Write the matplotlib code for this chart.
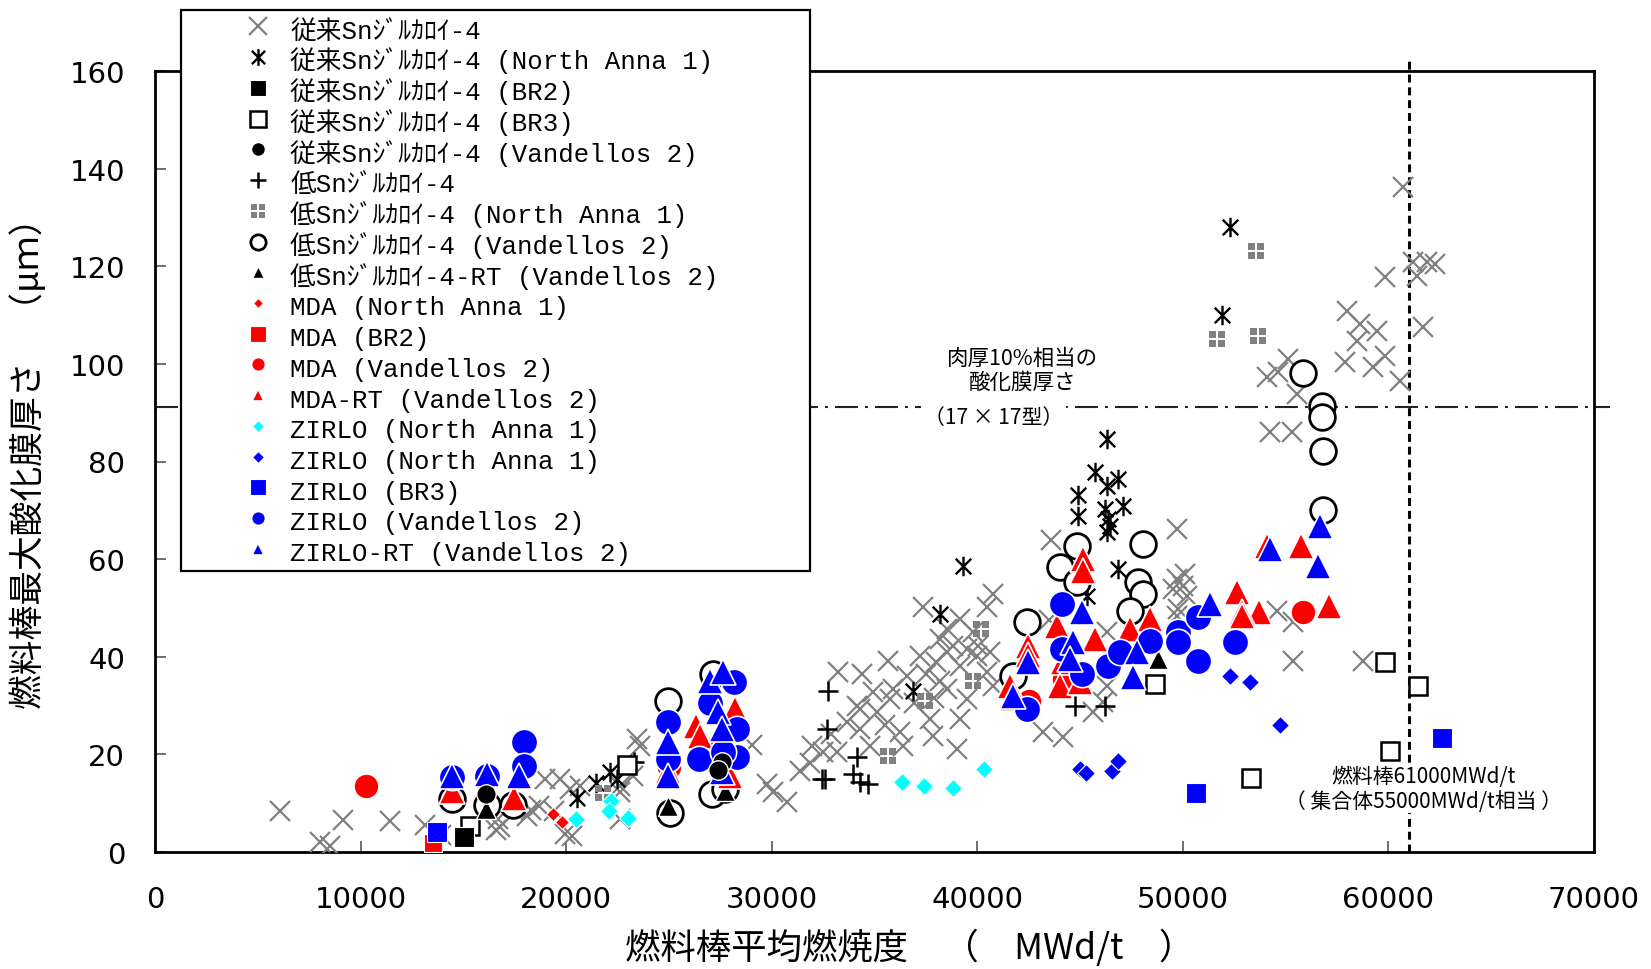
import matplotlib
matplotlib.use("Agg")
import matplotlib.pyplot as plt
from matplotlib.path import Path

# ---- data (burnup MWd/t, max oxide thickness um) ----
conv_x = [6100, 8050, 8500, 9150, 11450, 13150, 13900, 16700, 16800, 16600, 18100, 18700,
          19400, 18950, 19700, 20200, 20300, 20650, 18300, 19950, 22600, 23250, 23600, 23450,
          22600, 22600, 29050, 29770, 30060, 30750, 31370, 31860, 31960, 32490, 32900, 33220,
          34390, 35650, 33660, 34150, 34290, 34920, 35120, 35750, 35900, 36580, 37210, 37360,
          40760, 40470, 39160, 40030, 33170, 34290, 34780, 36240, 36380, 37700, 37840, 39150,
          39010, 39500, 38520, 39150, 39980, 40610, 40760, 40470, 38180, 38520, 38810, 38520,
          39500, 39790, 38000, 37500, 38200, 37900, 36900, 35500, 43190, 44160, 43600, 49710,
          45620, 46110, 46300, 49710, 49520, 50000, 50200, 46300, 43500, 49710, 60700, 59830,
          61190, 61870, 62260, 61380, 61680, 57980, 58610, 59440, 58470, 59830, 59250, 57880,
          60560, 55110, 54620, 54090, 55550, 54230, 55300, 50100, 49760, 54570, 55350, 55350,
          58760]
conv_y = [8.5, 2.1, 1.3, 6.5, 6.4, 5.6, 3.4, 6.8, 5.2, 4.6, 7.4, 9.4,
          8.4, 15.0, 15.0, 12.9, 3.3, 13.5, 8.6, 3.7, 13.5, 15.6, 21.7, 23.2,
          6.8, 12.3, 22.0, 13.9, 12.3, 10.2, 16.6, 18.3, 21.7, 20.5, 24.2, 36.9,
          36.5, 39.1, 26.6, 29.9, 29.3, 32.8, 28.7, 31.4, 33.4, 36.1, 40.2, 50.2,
          52.9, 50.2, 47.7, 42.2, 20.5, 25.2, 21.7, 24.6, 21.7, 27.3, 23.8, 27.3,
          21.1, 31.4, 33.4, 38.1, 40.2, 41.0, 34.0, 36.9, 43.6, 41.0, 42.2, 45.7,
          41.6, 45.1, 39.0, 36.5, 35.0, 31.5, 30.5, 26.0, 24.6, 23.6, 64.0, 66.2,
          28.7, 30.7, 34.0, 55.9, 53.9, 54.5, 52.5, 45.1, 47.5, 48.3, 136.3, 117.8,
          120.9, 120.9, 120.5, 118.0, 107.6, 110.9, 108.2, 106.8, 104.7, 101.6, 99.4, 100.4,
          96.5, 101.0, 98.4, 97.3, 93.8, 86.1, 86.1, 57.0, 49.8, 49.4, 47.1, 39.1,
          39.1]

conv_na_x = [52290, 51900, 46300, 45720, 46840, 46300, 44890, 44890, 47080, 46210, 46360,
             46450, 46300, 46840, 45330, 39300, 38180, 36870, 20550, 21470, 22130, 22470]
conv_na_y = [128.1, 110.0, 84.6, 77.9, 76.4, 75.0, 73.2, 68.9, 70.9, 70.3, 68.2,
             66.8, 65.6, 58.0, 52.5, 58.6, 48.8, 33.0, 11.0, 14.2, 16.4, 15.0]

conv_br2_x = [15050]
conv_br2_y = [3.1]

conv_br3_x = [15320, 22960, 48640, 59830, 61430, 60070, 53310]
conv_br3_y = [5.3, 17.8, 34.4, 38.9, 34.0, 20.7, 15.2]

conv_v2_x = [16100, 27600, 27400]
conv_v2_y = [11.8, 18.5, 16.8]

low_x = [32730, 32680, 34150, 32440, 32600, 33950, 34290, 34680, 44750, 46210, 23300]
low_y = [33.0, 25.2, 19.5, 15.0, 15.0, 16.0, 14.3, 13.9, 29.9, 29.9, 18.5]

low_na_x = [53550, 51660, 53650, 40180, 39790, 37450, 35650, 21800]
low_na_y = [123.1, 105.1, 105.7, 45.7, 35.0, 30.9, 19.7, 12.0]

low_v2_x = [55860, 56780, 56780, 56830, 56830, 48060, 47820, 48060, 47420, 44840, 44020,
            44840, 42410, 41740, 24950, 25050, 27140, 27100, 27730, 14450, 16150, 17410]
low_v2_y = [98.1, 91.4, 89.1, 82.2, 70.1, 63.1, 55.3, 52.9, 49.4, 62.7, 58.4,
            55.3, 47.1, 36.1, 31.0, 8.0, 36.5, 11.9, 12.9, 10.8, 9.6, 9.6]

low_rt_x = [16100, 24950, 27730, 48790]
low_rt_y = [8.8, 9.4, 12.5, 39.5]

mda_na_x = [19360, 19800]
mda_na_y = [7.8, 6.1]

mda_br2_x = [13520]
mda_br2_y = [1.8]

mda_v2_x = [10260, 55860, 25000, 26600, 44200, 42500]
mda_v2_y = [13.5, 49.2, 17.5, 21.5, 35.5, 31.0]

mda_rt_x = [14450, 17450, 24950, 26300, 26500, 28200, 27970, 45140, 45140, 52610, 53720,
            52900, 48400, 47420, 45720, 42460, 43870, 44160, 44020, 41590, 44990, 57130,
            55770, 54070, 52870, 41700, 42460]
mda_rt_y = [12.5, 11.0, 16.5, 25.8, 23.8, 29.3, 15.5, 60.0, 57.5, 53.3, 49.2,
            49.2, 47.7, 45.7, 43.6, 42.2, 46.3, 38.9, 34.0, 34.0, 34.8, 50.4,
            62.7, 62.7, 48.4, 31.5, 40.3]

zna_c_x = [20500, 22200, 22100, 23000, 36320, 37400, 38810, 40320]
zna_c_y = [6.8, 10.5, 8.5, 6.9, 14.3, 13.5, 13.1, 17.0]

zna_b_x = [45000, 45300, 46550, 46840, 52270, 53290, 54720]
zna_b_y = [17.0, 16.2, 16.6, 18.6, 36.1, 34.9, 26.0]

zbr3_x = [13720, 50630, 62600]
zbr3_y = [4.1, 12.1, 23.4]

zv2_x = [14450, 16150, 17950, 17950, 24950, 24950, 27000, 26450, 28150, 28300, 28300,
         27630, 44110, 44110, 45090, 46350, 46940, 48400, 49760, 49760, 50730, 50730,
         52530, 42410]
zv2_y = [15.4, 15.6, 22.5, 17.6, 26.6, 19.1, 30.5, 19.1, 34.8, 25.2, 19.4,
         20.5, 50.8, 41.6, 36.5, 38.1, 41.0, 43.2, 45.1, 43.0, 48.2, 39.1,
         43.0, 29.3]

zrt_x = [14450, 16150, 17700, 24950, 24950, 27000, 27630, 27390, 27580, 27580, 45090,
         44650, 44500, 42460, 41740, 47760, 47570, 51320, 54230, 56660, 56590]
zrt_y = [15.6, 16.0, 15.6, 22.5, 15.6, 35.0, 36.9, 28.7, 25.2, 16.4, 49.2,
         43.0, 39.5, 38.9, 32.0, 41.0, 35.9, 50.8, 62.1, 66.8, 58.6]

labels = ["従来Snｼﾞﾙｶﾛｲ-4", "従来Snｼﾞﾙｶﾛｲ-4 (North Anna 1)", "従来Snｼﾞﾙｶﾛｲ-4 (BR2)",
          "従来Snｼﾞﾙｶﾛｲ-4 (BR3)", "従来Snｼﾞﾙｶﾛｲ-4 (Vandellos 2)", "低Snｼﾞﾙｶﾛｲ-4",
          "低Snｼﾞﾙｶﾛｲ-4 (North Anna 1)", "低Snｼﾞﾙｶﾛｲ-4 (Vandellos 2)",
          "低Snｼﾞﾙｶﾛｲ-4-RT (Vandellos 2)", "MDA (North Anna 1)", "MDA (BR2)",
          "MDA (Vandellos 2)", "MDA-RT (Vandellos 2)", "ZIRLO (North Anna 1)",
          "ZIRLO (North Anna 1)", "ZIRLO (BR3)", "ZIRLO (Vandellos 2)", "ZIRLO-RT (Vandellos 2)"]

# four little squares marker
g = 0.14
verts, codes = [], []
for x0, y0 in [(-1, -1), (g, -1), (-1, g), (g, g)]:
    x1, y1 = x0 + 1 - g, y0 + 1 - g
    verts += [(x0, y0), (x1, y0), (x1, y1), (x0, y1), (x0, y0)]
    codes += [Path.MOVETO, Path.LINETO, Path.LINETO, Path.LINETO, Path.CLOSEPOLY]
quad = Path(verts, codes)

# asterisk: vertical bar plus an X
star = Path([(0, -1), (0, 1), (-0.8, -0.8), (0.8, 0.8), (-0.8, 0.8), (0.8, -0.8)],
            [Path.MOVETO, Path.LINETO] * 3)

RED, BLUE, CYAN, GRAY = "#ff0000", "#0000ff", "#00ffff", "#808080"
W = "white"

# (x, y, marker, size, face, edge, edgewidth, zorder, legend size)
series = [
    (conv_x, conv_y, "x", 14.5, GRAY, GRAY, 1.6, 3, 13),
    (conv_na_x, conv_na_y, star, 14, "k", "k", 1.7, 3.1, 12),
    (conv_br2_x, conv_br2_y, "s", 14, "k", W, 0.8, 3.3, 12),
    (conv_br3_x, conv_br3_y, "s", 13, W, "k", 1.8, 3.2, 11),
    (conv_v2_x, conv_v2_y, "o", 14, "k", W, 1.0, 6.5, 10),
    (low_x, low_y, "+", 14, "k", "k", 1.8, 3.1, 11),
    (low_na_x, low_na_y, quad, 11.5, GRAY, GRAY, 0, 3.1, 10),
    (low_v2_x, low_v2_y, "o", 18.5, W, "k", 2.0, 4, 11),
    (low_rt_x, low_rt_y, "^", 15, "k", W, 1.0, 4.1, 9),
    (mda_na_x, mda_na_y, "D", 7.6, RED, W, 0.8, 4.2, 5.5),
    (mda_br2_x, mda_br2_y, "s", 13, RED, W, 0.8, 4.2, 12),
    (mda_v2_x, mda_v2_y, "o", 18, RED, W, 1.2, 4.3, 10),
    (mda_rt_x, mda_rt_y, "^", 19, RED, W, 1.2, 4.4, 9),
    (zna_c_x, zna_c_y, "D", 9.2, CYAN, W, 0.8, 4.5, 6),
    (zna_b_x, zna_b_y, "D", 9.2, BLUE, W, 0.8, 4.5, 6),
    (zbr3_x, zbr3_y, "s", 14, BLUE, W, 0.8, 4.5, 12),
    (zv2_x, zv2_y, "o", 19, BLUE, W, 1.2, 5, 10),
    (zrt_x, zrt_y, "^", 19, BLUE, W, 1.2, 6, 9),
]

fig = plt.figure(figsize=(16.51, 9.70), dpi=100)
ax = fig.add_axes([155 / 1651, 117 / 970, 1439 / 1651, 781 / 970])

handles = []
for (xs, ys, m, ms, fc, ec, mew, z, lms), lab in zip(series, labels):
    ln, = ax.plot(xs, ys, ls="none", marker=m, ms=ms, mfc=fc, mec=ec, mew=mew,
                  zorder=z, label=lab)
    handles.append(ln)

# 10% wall thickness line and 61000 MWd/t line
ax.plot([0, 70770], [91.2, 91.2], color="#222222", lw=1.5,
        ls=(0, (11, 3.4, 1.4, 3.4)), clip_on=False, zorder=2)
ax.plot([61000, 61000], [0, 162], color="k", lw=2.2, ls=(0, (2.6, 1.6)),
        clip_on=False, zorder=2)

jp = ["Noto Sans CJK JP", "DejaVu Sans"]
ax.text(42220, 98.7, "肉厚10%相当の\n酸化膜厚さ", ha="center", va="center",
        fontsize=15.5, family=jp, linespacing=1.1, zorder=7)
ax.text(40800, 89.1, "（17 × 17型）", ha="center", va="center", fontsize=15, family=jp,
        bbox=dict(facecolor="white", edgecolor="none", pad=2), zorder=7)
ax.text(61720, 13.0, "燃料棒61000MWd/t\n（ 集合体55000MWd/t相当 ）", ha="center",
        va="center", fontsize=15, family=jp, linespacing=1.15, zorder=7,
        bbox=dict(facecolor="white", edgecolor="none", pad=1))

ax.set_xlim(0, 70000)
ax.set_ylim(0, 160)
ax.set_xticks(range(0, 70001, 10000))
ax.set_yticks(range(0, 161, 20))
ax.tick_params(axis="both", direction="in", length=8, width=1.2, color="#555555",
               labelsize=21)
ax.tick_params(axis="x", pad=23.5)
ax.tick_params(axis="y", pad=21.5)
for lab in ax.get_xticklabels() + ax.get_yticklabels():
    lab.set_family("DejaVu Sans")
for s in ax.spines.values():
    s.set_linewidth(2)
    s.set_color("k")

fig.text(910 / 1651, 1 - 948 / 970, "燃料棒平均燃焼度　（　MWd/t　）", ha="center",
         va="center", fontsize=25.5, family=jp)
fig.text(29 / 1651, 1 - 455 / 970, "燃料棒最大酸化膜厚さ　（μｍ）", ha="center",
         va="center", rotation=90, fontsize=25, family=jp)

leg = ax.legend(handles=handles, loc="upper left", mode="expand",
                bbox_to_anchor=(181 / 1651, 0.0, (810 - 181) / 1651, 1 - 11 / 970),
                bbox_transform=fig.transFigure, fancybox=False, framealpha=1,
                edgecolor="k", borderpad=0.2, labelspacing=0.106, handlelength=5.6,
                handleheight=1.3, handletextpad=-1.55, borderaxespad=0,
                prop={"family": ["Liberation Mono", "Noto Sans CJK JP"], "size": 18.5})
leg.get_frame().set_linewidth(1.6)
leg.set_zorder(10)
for h, sv in zip(leg.legend_handles, series):
    h.set_markersize(sv[8])

fig.savefig("out.png", dpi=100)
